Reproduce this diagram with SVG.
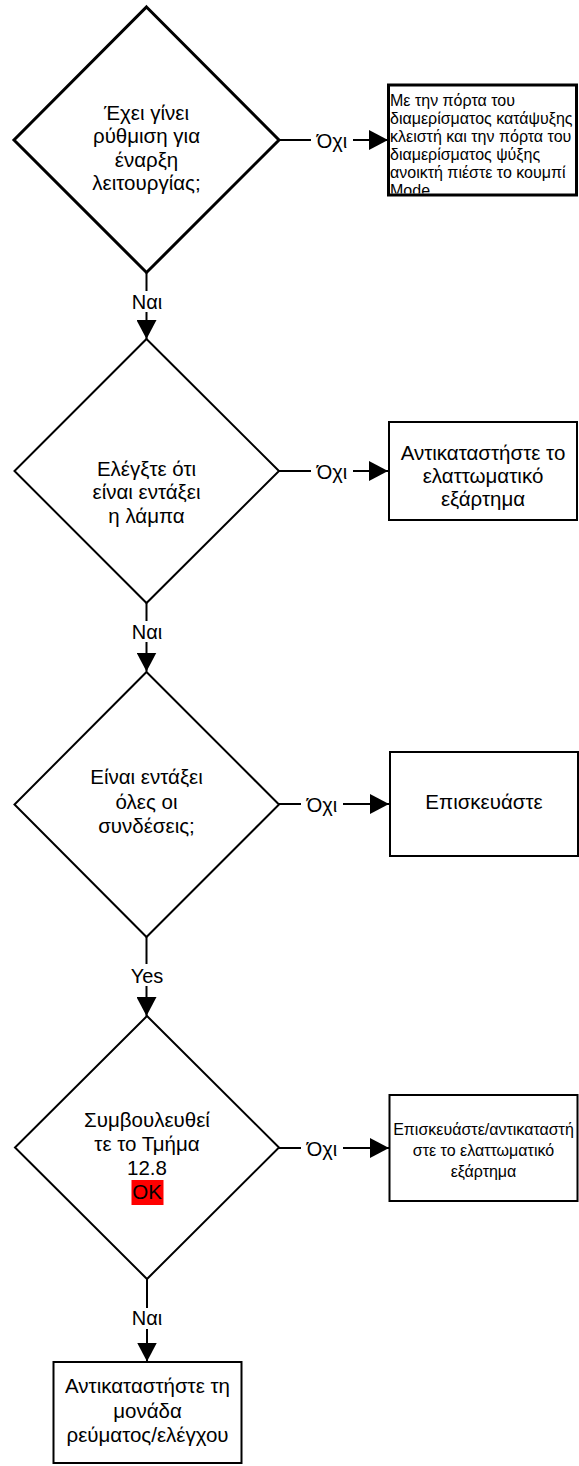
<svg xmlns="http://www.w3.org/2000/svg" width="579" height="1466" viewBox="0 0 579 1466">
  <style>
    text { font-family: "Liberation Sans", Arial, sans-serif; fill: #000; }
    .t20 { font-size: 20.5px; text-anchor: middle; }
    .lbl { font-size: 20px; text-anchor: middle; }
    .t16c { font-size: 16px; text-anchor: middle; }
    .t16l { font-size: 16px; }
    .shape { fill: #fff; stroke: #000; stroke-width: 2; }
    .heavy { fill: #fff; stroke: #000; stroke-width: 3; }
    .wire { fill: none; stroke: #000; stroke-width: 2; }
    .lblbg { fill: #fff; }
  </style>
  <defs>
    <marker id="arrow" markerUnits="userSpaceOnUse" markerWidth="20" markerHeight="20" refX="19" refY="10" orient="auto">
      <path d="M0,0 L19,10 L0,20 Z" fill="#000"/>
    </marker>
    <clipPath id="clipBox1">
      <rect x="389" y="86" width="187" height="107.5"/>
    </clipPath>
  </defs>

  <rect width="579" height="1466" fill="#fff"/>

  <!-- connectors -->
  <g id="connectors">
    <!-- decision 1 -->
    <path class="wire" d="M146.5,272.5 V339" marker-end="url(#arrow)"/>
    <rect class="lblbg" x="132" y="291" width="30" height="21"/>
    <text class="lbl" x="147" y="308.5">Ναι</text>
    <path class="wire" d="M279,140 H388" marker-end="url(#arrow)"/>
    <rect class="lblbg" x="311" y="129" width="42" height="22"/>
    <text class="lbl" x="332" y="147.5">Όχι</text>

    <!-- decision 2 -->
    <path class="wire" d="M146.5,603 V671.5" marker-end="url(#arrow)"/>
    <rect class="lblbg" x="132" y="621" width="30" height="21"/>
    <text class="lbl" x="147" y="638.5">Ναι</text>
    <path class="wire" d="M279,471 H388" marker-end="url(#arrow)"/>
    <rect class="lblbg" x="311" y="460" width="42" height="22"/>
    <text class="lbl" x="332" y="478.5">Όχι</text>

    <!-- decision 3 -->
    <path class="wire" d="M146.5,937 V1016" marker-end="url(#arrow)"/>
    <rect class="lblbg" x="129" y="964" width="36" height="22"/>
    <text class="lbl" x="147" y="982.5">Yes</text>
    <path class="wire" d="M279,804 H389" marker-end="url(#arrow)"/>
    <rect class="lblbg" x="301" y="793" width="42" height="22"/>
    <text class="lbl" x="322" y="811.5">Όχι</text>

    <!-- decision 4 -->
    <path class="wire" d="M147,1279 V1361.5" marker-end="url(#arrow)"/>
    <rect class="lblbg" x="132" y="1308" width="30" height="21"/>
    <text class="lbl" x="147" y="1325">Ναι</text>
    <path class="wire" d="M279,1148 H389" marker-end="url(#arrow)"/>
    <rect class="lblbg" x="301" y="1137" width="42" height="22"/>
    <text class="lbl" x="322" y="1155.5">Όχι</text>
  </g>

  <!-- decision: start-up setting -->
  <g id="d1">
    <polygon class="heavy" points="146.5,7 279,140 146.5,272.5 14,140"/>
    <text class="t20" x="146.5" y="120">Έχει γίνει</text>
    <text class="t20" x="146.5" y="143">ρύθμιση για</text>
    <text class="t20" x="146.5" y="166.5">έναρξη</text>
    <text class="t20" x="146.5" y="190">λειτουργίας;</text>
  </g>

  <!-- action: Mode button -->
  <g id="b1">
    <rect class="heavy" x="388.5" y="85" width="188" height="110"/>
    <g clip-path="url(#clipBox1)">
      <text class="t16l" x="390" y="106">Με την πόρτα του</text>
      <text class="t16l" x="390" y="124">διαμερίσματος κατάψυξης</text>
      <text class="t16l" x="390" y="142">κλειστή και την πόρτα του</text>
      <text class="t16l" x="390" y="160">διαμερίσματος ψύξης</text>
      <text class="t16l" x="390" y="177.5">ανοικτή πιέστε το κουμπί</text>
      <text class="t16l" x="390" y="195.5">Mode</text>
    </g>
  </g>

  <!-- decision: lamp -->
  <g id="d2">
    <polygon class="shape" points="146.5,339 279,471 146.5,603 14.5,471"/>
    <text class="t20" x="146.5" y="475.5">Ελέγξτε ότι</text>
    <text class="t20" x="146.5" y="499">είναι εντάξει</text>
    <text class="t20" x="146.5" y="522.5">η λάμπα</text>
  </g>

  <!-- action: replace part -->
  <g id="b2">
    <rect class="shape" x="389" y="422" width="188" height="98"/>
    <text class="t20" x="483" y="460">Αντικαταστήστε το</text>
    <text class="t20" x="483" y="483">ελαττωματικό</text>
    <text class="t20" x="483" y="506">εξάρτημα</text>
  </g>

  <!-- decision: connections -->
  <g id="d3">
    <polygon class="shape" points="146.5,672 279,804.5 146.5,937 14.5,804.5"/>
    <text class="t20" x="146.5" y="784">Είναι εντάξει</text>
    <text class="t20" x="146.5" y="808.5">όλες οι</text>
    <text class="t20" x="146.5" y="832.5">συνδέσεις;</text>
  </g>

  <!-- action: repair -->
  <g id="b3">
    <rect class="shape" x="390" y="752" width="188" height="104"/>
    <text class="t20" x="484" y="808.5">Επισκευάστε</text>
  </g>

  <!-- decision: section 12.8 -->
  <g id="d4">
    <polygon class="shape" points="147,1016 279,1147.5 147,1279 15,1147.5"/>
    <text class="t20" x="147" y="1126.5">Συμβουλευθεί</text>
    <text class="t20" x="147" y="1150.5">τε το Τμήμα</text>
    <text class="t20" x="147" y="1175">12.8</text>
    <rect x="131.5" y="1180" width="32" height="25" fill="#ff0000"/>
    <text class="t20" x="147" y="1198.5">OK</text>
  </g>

  <!-- action: repair/replace part -->
  <g id="b4">
    <rect class="shape" x="389.5" y="1095" width="188" height="106"/>
    <text class="t16c" x="483.5" y="1135">Επισκευάστε/αντικαταστή</text>
    <text class="t16c" x="483.5" y="1156">στε το ελαττωματικό</text>
    <text class="t16c" x="483.5" y="1176.5">εξάρτημα</text>
  </g>

  <!-- action: replace power/control unit -->
  <g id="b5">
    <rect class="shape" x="53.5" y="1362" width="188" height="101"/>
    <text class="t20" x="147.5" y="1393">Αντικαταστήστε τη</text>
    <text class="t20" x="147.5" y="1418">μονάδα</text>
    <text class="t20" x="147.5" y="1441.5">ρεύματος/ελέγχου</text>
  </g>
</svg>
